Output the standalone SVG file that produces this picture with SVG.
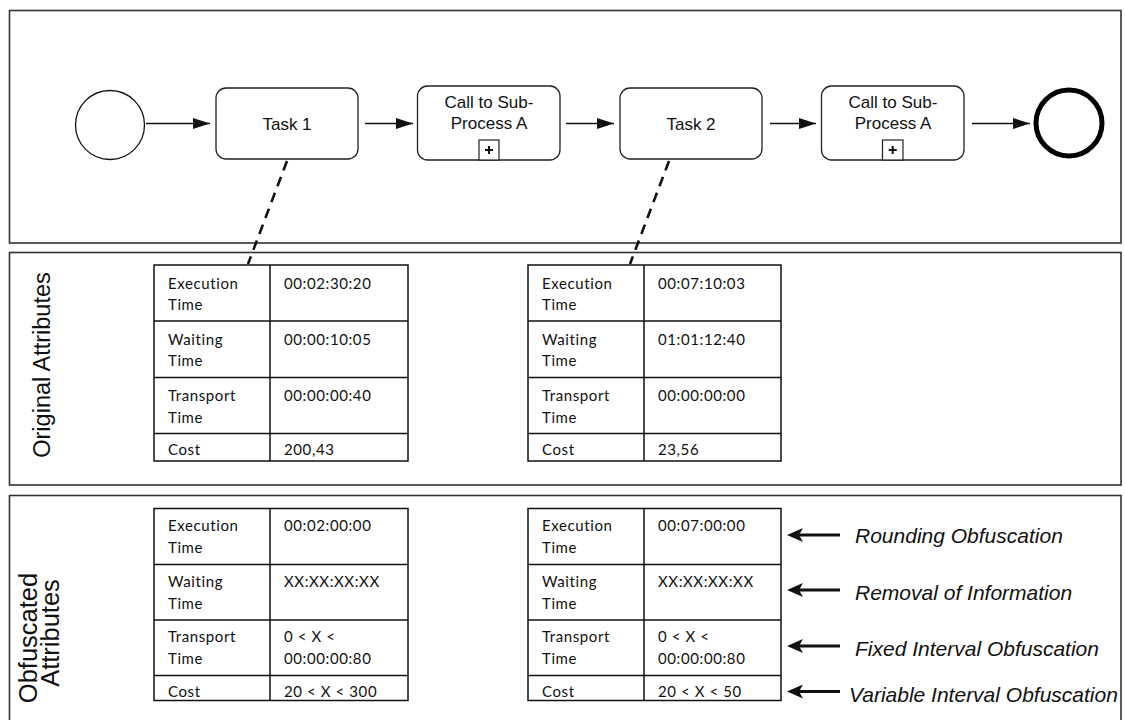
<svg xmlns="http://www.w3.org/2000/svg" width="1125" height="720" viewBox="0 0 1125 720">
  <style>
    .frame { fill: none; stroke: #333; stroke-width: 1.6; }
    .event { fill: #fff; stroke: #111; stroke-width: 1.3; }
    .event-end { fill: #fff; stroke: #000; stroke-width: 5; }
    .task { fill: #fff; stroke: #222; stroke-width: 1.3; }
    .marker-box { fill: #fff; stroke: #222; stroke-width: 1.2; }
    .lbl { font-family: "Liberation Sans", Arial, sans-serif; font-size: 17px; fill: #111; text-anchor: middle; }
    .flow { stroke: #111; stroke-width: 1.4; fill: none; marker-end: url(#arr); }
    .assoc { stroke: #111; stroke-width: 2.6; stroke-dasharray: 10 7; fill: none; }
    .tbl { fill: #fff; stroke: #111; stroke-width: 1.5; }
    .grid { stroke: #111; stroke-width: 1.5; }
    .cell { font-family: Lato, "Open Sans", sans-serif; font-size: 15px; letter-spacing: 0.6px; fill: #111; }
    .note { font-family: "Liberation Sans", Arial, sans-serif; font-size: 21px; font-style: italic; fill: #111; }
    .lane { font-family: "Liberation Sans", Arial, sans-serif; font-size: 23.5px; fill: #111; text-anchor: middle; }
    .lane-lg { font-size: 25.5px; }
    .hint { stroke: #111; stroke-width: 3; fill: none; marker-end: url(#barb); }
  </style>
  <defs>
    <marker id="arr" markerUnits="userSpaceOnUse" markerWidth="17" markerHeight="11" refX="17" refY="5.5" orient="auto">
      <path d="M0,0 L17,5.5 L0,11 z" fill="#111"/>
    </marker>
    <marker id="barb" markerUnits="userSpaceOnUse" markerWidth="16" markerHeight="14" refX="6" refY="7" orient="auto">
      <path d="M0,0 L16,7 L0,14 L4,7 z" fill="#111"/>
    </marker>
  </defs>

  <!-- frames -->
  <g id="frames">
    <rect class="frame" x="9.5" y="10.5" width="1111.5" height="232.5"/>
    <rect class="frame" x="9.5" y="252.5" width="1111.5" height="232.5"/>
    <rect class="frame" x="9.5" y="495.5" width="1111.5" height="240"/>
  </g>

  <!-- lane labels -->
  <g id="lane-labels">
    <text class="lane" transform="translate(50,365) rotate(-90)">Original Attributes</text>
    <text class="lane lane-lg" transform="translate(36.5,638) rotate(-90)">Obfuscated</text>
    <text class="lane lane-lg" transform="translate(58.5,633) rotate(-90)">Attributes</text>
  </g>

  <!-- connectors -->
  <g id="connectors">
    <line class="flow" x1="146" y1="123.5" x2="210" y2="123.5"/>
    <line class="flow" x1="365" y1="123.5" x2="413" y2="123.5"/>
    <line class="flow" x1="566" y1="123.5" x2="614" y2="123.5"/>
    <line class="flow" x1="770" y1="123.5" x2="816" y2="123.5"/>
    <line class="flow" x1="972" y1="123.5" x2="1030" y2="123.5"/>
    <line class="assoc" x1="287" y1="161" x2="248" y2="264"/>
    <line class="assoc" x1="669" y1="161" x2="630" y2="264"/>
    <line class="hint" x1="840" y1="535" x2="797" y2="535"/>
    <line class="hint" x1="840" y1="590" x2="797" y2="590"/>
    <line class="hint" x1="840" y1="646" x2="797" y2="646"/>
    <line class="hint" x1="840" y1="691.5" x2="797" y2="691.5"/>
  </g>

  <!-- process nodes -->
  <g id="start-event">
    <circle class="event" cx="110" cy="125" r="34.5"/>
  </g>
  <g id="task-1">
    <rect class="task" x="216" y="88" width="142" height="71" rx="10"/>
    <text class="lbl" x="287" y="130">Task 1</text>
  </g>
  <g id="call-sub-process-a-1">
    <rect class="task" x="417.5" y="86" width="142.5" height="74" rx="10"/>
    <text class="lbl" x="489" y="108">Call to Sub-</text>
    <text class="lbl" x="489" y="129">Process A</text>
    <rect class="marker-box" x="479" y="140" width="20" height="20"/>
    <path d="M485,150 h8 M489,146 v8" stroke="#111" stroke-width="2"/>
  </g>
  <g id="task-2">
    <rect class="task" x="620" y="88" width="142" height="71" rx="10"/>
    <text class="lbl" x="691" y="130">Task 2</text>
  </g>
  <g id="call-sub-process-a-2">
    <rect class="task" x="821.5" y="86" width="142.5" height="74" rx="10"/>
    <text class="lbl" x="893" y="108">Call to Sub-</text>
    <text class="lbl" x="893" y="129">Process A</text>
    <rect class="marker-box" x="882.5" y="140" width="20.5" height="20"/>
    <path d="M888.7,150 h8 M892.7,146 v8" stroke="#111" stroke-width="2"/>
  </g>
  <g id="end-event">
    <circle class="event-end" cx="1069" cy="123" r="33"/>
  </g>

  <!-- original attribute tables -->
  <g id="table-task1-original" transform="translate(154,265)">
    <rect class="tbl" x="0" y="0" width="254" height="196"/>
    <line class="grid" x1="116" y1="0" x2="116" y2="196"/>
    <line class="grid" x1="0" y1="56" x2="254" y2="56"/>
    <line class="grid" x1="0" y1="112.5" x2="254" y2="112.5"/>
    <line class="grid" x1="0" y1="168.5" x2="254" y2="168.5"/>
    <text class="cell" x="14" y="24">Execution</text>
    <text class="cell" x="14" y="45">Time</text>
    <text class="cell" x="130" y="24">00:02:30:20</text>
    <text class="cell" x="14" y="80">Waiting</text>
    <text class="cell" x="14" y="101">Time</text>
    <text class="cell" x="130" y="80">00:00:10:05</text>
    <text class="cell" x="14" y="136">Transport</text>
    <text class="cell" x="14" y="157.5">Time</text>
    <text class="cell" x="130" y="136">00:00:00:40</text>
    <text class="cell" x="14" y="190">Cost</text>
    <text class="cell" x="130" y="190">200,43</text>
  </g>
  <g id="table-task2-original" transform="translate(528,265)">
    <rect class="tbl" x="0" y="0" width="253" height="196"/>
    <line class="grid" x1="116" y1="0" x2="116" y2="196"/>
    <line class="grid" x1="0" y1="56" x2="253" y2="56"/>
    <line class="grid" x1="0" y1="112.5" x2="253" y2="112.5"/>
    <line class="grid" x1="0" y1="168.5" x2="253" y2="168.5"/>
    <text class="cell" x="14" y="24">Execution</text>
    <text class="cell" x="14" y="45">Time</text>
    <text class="cell" x="130" y="24">00:07:10:03</text>
    <text class="cell" x="14" y="80">Waiting</text>
    <text class="cell" x="14" y="101">Time</text>
    <text class="cell" x="130" y="80">01:01:12:40</text>
    <text class="cell" x="14" y="136">Transport</text>
    <text class="cell" x="14" y="157.5">Time</text>
    <text class="cell" x="130" y="136">00:00:00:00</text>
    <text class="cell" x="14" y="190">Cost</text>
    <text class="cell" x="130" y="190">23,56</text>
  </g>

  <!-- obfuscated attribute tables -->
  <g id="table-task1-obfuscated" transform="translate(154,508.5)">
    <rect class="tbl" x="0" y="0" width="254" height="192"/>
    <line class="grid" x1="116" y1="0" x2="116" y2="192"/>
    <line class="grid" x1="0" y1="56" x2="254" y2="56"/>
    <line class="grid" x1="0" y1="111.5" x2="254" y2="111.5"/>
    <line class="grid" x1="0" y1="167" x2="254" y2="167"/>
    <text class="cell" x="14" y="22">Execution</text>
    <text class="cell" x="14" y="44">Time</text>
    <text class="cell" x="130" y="22">00:02:00:00</text>
    <text class="cell" x="14" y="78">Waiting</text>
    <text class="cell" x="14" y="100">Time</text>
    <text class="cell" x="130" y="78">XX:XX:XX:XX</text>
    <text class="cell" x="14" y="133.5">Transport</text>
    <text class="cell" x="14" y="155.5">Time</text>
    <text class="cell" x="130" y="133.5">0 &lt; X &lt;</text>
    <text class="cell" x="130" y="155.5">00:00:00:80</text>
    <text class="cell" x="14" y="188">Cost</text>
    <text class="cell" x="130" y="188">20 &lt; X &lt; 300</text>
  </g>
  <g id="table-task2-obfuscated" transform="translate(528,508.5)">
    <rect class="tbl" x="0" y="0" width="253" height="192"/>
    <line class="grid" x1="116" y1="0" x2="116" y2="192"/>
    <line class="grid" x1="0" y1="56" x2="253" y2="56"/>
    <line class="grid" x1="0" y1="111.5" x2="253" y2="111.5"/>
    <line class="grid" x1="0" y1="167" x2="253" y2="167"/>
    <text class="cell" x="14" y="22">Execution</text>
    <text class="cell" x="14" y="44">Time</text>
    <text class="cell" x="130" y="22">00:07:00:00</text>
    <text class="cell" x="14" y="78">Waiting</text>
    <text class="cell" x="14" y="100">Time</text>
    <text class="cell" x="130" y="78">XX:XX:XX:XX</text>
    <text class="cell" x="14" y="133.5">Transport</text>
    <text class="cell" x="14" y="155.5">Time</text>
    <text class="cell" x="130" y="133.5">0 &lt; X &lt;</text>
    <text class="cell" x="130" y="155.5">00:00:00:80</text>
    <text class="cell" x="14" y="188">Cost</text>
    <text class="cell" x="130" y="188">20 &lt; X &lt; 50</text>
  </g>

  <!-- obfuscation technique notes -->
  <g id="notes">
    <text class="note" x="855" y="543">Rounding Obfuscation</text>
    <text class="note" x="855" y="600">Removal of Information</text>
    <text class="note" x="855" y="656">Fixed Interval  Obfuscation</text>
    <text class="note" x="849" y="702">Variable Interval Obfuscation</text>
  </g>
</svg>
